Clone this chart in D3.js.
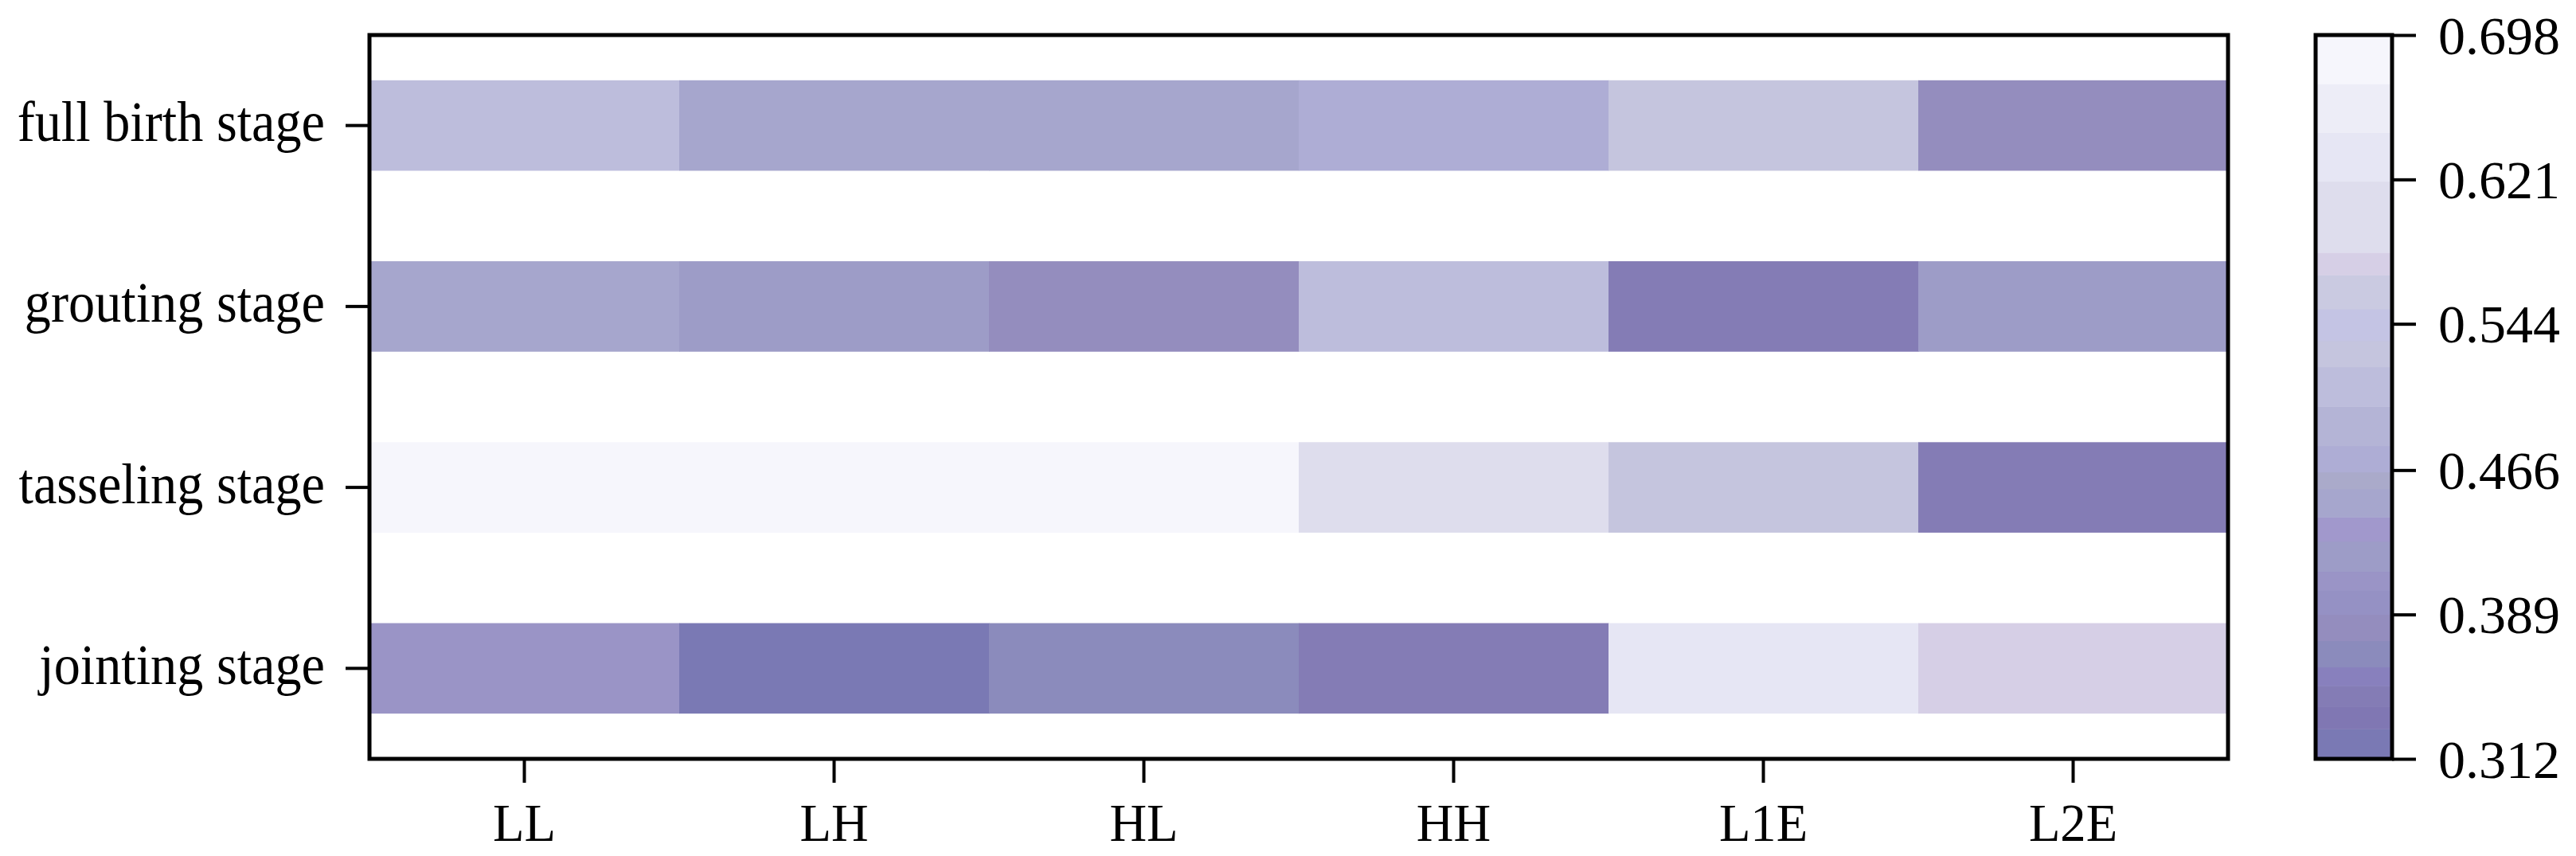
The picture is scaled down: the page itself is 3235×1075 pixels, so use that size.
<!DOCTYPE html>
<html>
<head>
<meta charset="utf-8">
<script src="https://cdn.jsdelivr.net/npm/d3@7"></script>
<style>
  html, body { margin: 0; padding: 0; background: #ffffff; }
  svg { display: block; }
  text { font-family: "Liberation Serif", "Times New Roman", serif; fill: #000; }
</style>
</head>
<body>
<svg id="chart" width="3235" height="1075"></svg>
<script>
// ---- data ----
const treatments = ["LL", "LH", "HL", "HH", "L1E", "L2E"];
const stages = ["full birth stage", "grouting stage", "tasseling stage", "jointing stage"];
const fullBirth = [0.510, 0.450, 0.450, 0.470, 0.530, 0.380];
const grouting  = [0.450, 0.420, 0.380, 0.510, 0.345, 0.420];
const tasseling = [0.698, 0.690, 0.685, 0.600, 0.530, 0.345];
const jointing  = [0.410, 0.312, 0.370, 0.345, 0.630, 0.575];
const colorbarTicks = [0.312, 0.389, 0.466, 0.544, 0.621, 0.698];
const colorMin = 0.312, colorMax = 0.698;
// colour levels of the bar (value thresholds, low to high) and their colours
const levelThresholds = [0.328, 0.340, 0.351, 0.361, 0.375, 0.389, 0.402, 0.412, 0.428, 0.441,
  0.456, 0.465, 0.479, 0.500, 0.521, 0.535, 0.552, 0.570, 0.582, 0.620, 0.646, 0.672];
const levelColors = ["#7a79b4", "#8077b3", "#847cb5", "#8880bd", "#8b8bbc", "#948dbe", "#9591c4",
  "#9a94c6", "#9d9cc7", "#a198cc", "#a6a6cd", "#aaaaca", "#aeadd5", "#b4b4d6", "#bdbddc",
  "#c5c5de", "#c4c4e4", "#cacae1", "#d6cfe6", "#dedded", "#e6e6f4", "#ededf7", "#f6f6fc"];

const seriesByStage = {
  "full birth stage": fullBirth,
  "grouting stage": grouting,
  "tasseling stage": tasseling,
  "jointing stage": jointing
};
const cells = [];
stages.forEach(s => treatments.forEach((t, i) => cells.push({ stage: s, treat: t, value: seriesByStage[s][i] })));

// ---- layout ----
const svg = d3.select("#chart");
const plot = { left: 464, right: 2798, top: 44, bottom: 953 };
const cbar = { left: 2908, right: 3004 };

const x = d3.scaleBand().domain(treatments).range([plot.left, plot.right]).padding(0);
const y = d3.scaleBand().domain(stages).range([plot.top, plot.bottom]).paddingInner(0.5).paddingOuter(0.25);
const color = d3.scaleThreshold().domain(levelThresholds).range(levelColors);

// cells
svg.append("g").selectAll("rect").data(cells).join("rect")
  .attr("x", d => x(d.treat))
  .attr("y", d => y(d.stage))
  .attr("width", x.bandwidth() + 0.5)
  .attr("height", y.bandwidth())
  .attr("fill", d => color(d.value));

// axes
const xAxis = svg.append("g").attr("transform", `translate(0,${plot.bottom})`)
  .call(d3.axisBottom(x).tickSize(30).tickPadding(12));
xAxis.select(".domain").remove();
xAxis.selectAll(".tick line").attr("stroke", "#000").attr("stroke-width", 4);
xAxis.selectAll(".tick text")
  .attr("y", 103).attr("dy", null)
  .style("font-size", "68px")
  .style("font-family", '"Liberation Serif", "Times New Roman", serif');

const yAxis = svg.append("g").attr("transform", `translate(${plot.left},0)`)
  .call(d3.axisLeft(y).tickSize(30).tickPadding(26));
yAxis.select(".domain").remove();
yAxis.selectAll(".tick line").attr("stroke", "#000").attr("stroke-width", 4);
yAxis.selectAll(".tick text")
  .attr("dy", "0.27em")
  .style("font-size", "72px")
  .style("font-family", '"Liberation Serif", "Times New Roman", serif');

// slight horizontal condensing like the reference glyphs
function condense(sel, f) {
  sel.each(function () {
    const w = this.getComputedTextLength();
    d3.select(this).attr("textLength", w * f).attr("lengthAdjust", "spacingAndGlyphs");
  });
}
condense(xAxis.selectAll(".tick text"), 0.95);
condense(yAxis.selectAll(".tick text"), 0.92);

// frame
svg.append("rect")
  .attr("x", plot.left).attr("y", plot.top)
  .attr("width", plot.right - plot.left).attr("height", plot.bottom - plot.top)
  .attr("fill", "none").attr("stroke", "#000").attr("stroke-width", 5);

// colorbar
const cy = d3.scaleLinear().domain([colorMin, colorMax]).range([plot.bottom, plot.top]);
const bounds = [colorMin, ...levelThresholds, colorMax];
const bands = levelColors.map((c, i) => ({ lo: bounds[i], hi: bounds[i + 1], c }));
svg.append("g").selectAll("rect").data(bands).join("rect")
  .attr("x", cbar.left)
  .attr("width", cbar.right - cbar.left)
  .attr("y", d => cy(d.hi))
  .attr("height", d => cy(d.lo) - cy(d.hi) + 0.5)
  .attr("fill", d => d.c);

const cAxis = svg.append("g").attr("transform", `translate(${cbar.right},0)`)
  .call(d3.axisRight(cy).tickValues(colorbarTicks).tickFormat(d3.format(".3f")).tickSize(30).tickPadding(28));
cAxis.select(".domain").remove();
cAxis.selectAll(".tick line").attr("stroke", "#000").attr("stroke-width", 4);
cAxis.selectAll(".tick text")
  .attr("dy", "0.34em")
  .style("font-size", "68px")
  .style("font-family", '"Liberation Serif", "Times New Roman", serif');

svg.append("rect")
  .attr("x", cbar.left).attr("y", plot.top)
  .attr("width", cbar.right - cbar.left).attr("height", plot.bottom - plot.top)
  .attr("fill", "none").attr("stroke", "#000").attr("stroke-width", 5);
</script>
</body>
</html>
